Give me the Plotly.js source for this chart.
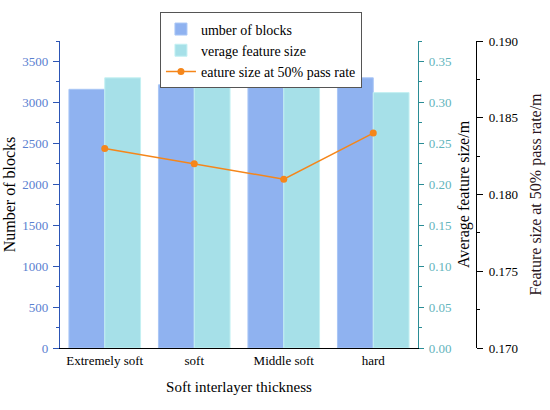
<!DOCTYPE html>
<html>
<head>
<meta charset="utf-8">
<script src="https://cdn.plot.ly/plotly-3.0.1.min.js"></script>
<style>html,body{margin:0;padding:0;background:#fff;}#chart{width:550px;height:410px;}</style>
</head>
<body>
<div id="chart"></div>
<script>
const categories = ["Extremely soft", "soft", "Middle soft", "hard"];
const numberOfBlocks = [3160, 3215, 3240, 3300];
const averageFeatureSize = [0.330, 0.321, 0.325, 0.312];
const featureSize50 = [0.183, 0.182, 0.181, 0.184];
const seriesNames = ["umber of blocks", "verage feature size", "eature size at 50% pass rate"];

const serif = "Liberation Serif";

const traces = [
  {
    type: "bar", x: categories, y: numberOfBlocks, name: seriesNames[0],
    yaxis: "y", width: 0.4, offset: -0.4,
    marker: {color: "#8fb2f0", line: {color: "#a9c6f6", width: 1}}
  },
  {
    type: "bar", x: categories, y: averageFeatureSize, name: seriesNames[1],
    yaxis: "y2", width: 0.4, offset: 0,
    marker: {color: "#a6e0e8", line: {color: "#c4f0f2", width: 1}}
  },
  {
    type: "scatter", mode: "lines+markers", x: categories, y: featureSize50, name: seriesNames[2],
    yaxis: "y3",
    line: {color: "#f5861a", width: 1.5},
    marker: {color: "#f5861a", size: 7}
  }
];

const layout = {
  width: 550, height: 410,
  margin: {l: 60, r: 70, t: 35, b: 62},
  paper_bgcolor: "#fff", plot_bgcolor: "#fff",
  font: {family: serif, color: "#000", size: 13},
  showlegend: true,
  legend: {
    x: 0.238, y: 1.093, xanchor: "left", yanchor: "top",
    bordercolor: "#555", borderwidth: 1, bgcolor: "#fff",
    font: {family: serif, size: 14, color: "#000"},
    tracegroupgap: 0, itemwidth: 30
  },
  xaxis: {
    type: "category", domain: [0, 0.8524], range: [-0.5, 3.5],
    showline: true, linecolor: "#000", linewidth: 1.2,
    ticks: "", showgrid: false, zeroline: false,
    tickfont: {family: serif, size: 13, color: "#000"},
    title: {text: "Soft interlayer thickness", font: {family: serif, size: 15, color: "#000"}, standoff: 14}
  },
  xaxis2: {
    overlaying: "x", anchor: "y", side: "bottom", domain: [0, 0.8524],
    type: "linear", range: [-0.5, 3.5], tick0: -0.5, dtick: 0.5,
    ticks: "outside", ticklen: 5, tickcolor: "#000", tickwidth: 1,
    showticklabels: false, showgrid: false, zeroline: false, showline: false
  },
  yaxis: {
    range: [0, 3750], dtick: 500, tick0: 0,
    showline: true, linecolor: "#2c55b5", linewidth: 1.2,
    ticks: "outside", ticklen: 6, tickcolor: "#2c55b5",
    minor: {dtick: 250, ticks: "outside", ticklen: 3, tickcolor: "#2c55b5"},
    showgrid: false, zeroline: false, ticklabelstandoff: 2,
    tickfont: {family: serif, size: 13, color: "#5a80d0"},
    title: {text: "Number of blocks", font: {family: serif, size: 16, color: "#000"}, standoff: 2}
  },
  yaxis2: {
    overlaying: "y", side: "right", anchor: "x",
    range: [0, 0.375], dtick: 0.05, tick0: 0, tickformat: ".2f",
    showline: true, linecolor: "#2a8c95", linewidth: 1.2,
    ticks: "outside", ticklen: 5, tickcolor: "#2a8c95",
    minor: {dtick: 0.025, ticks: "outside", ticklen: 3, tickcolor: "#2a8c95"},
    showgrid: false, zeroline: false, ticklabelstandoff: 2,
    tickfont: {family: serif, size: 13, color: "#62b4bc"},
    title: {text: "Average feature size/m", font: {family: serif, size: 16, color: "#000"}, standoff: 7}
  },
  yaxis3: {
    overlaying: "y", side: "right", anchor: "free", position: 0.9905,
    range: [0.17, 0.19], dtick: 0.005, tick0: 0.17, tickformat: ".3f",
    showline: true, linecolor: "#000", linewidth: 1.2,
    ticks: "outside", ticklen: 6, tickcolor: "#000",
    minor: {dtick: 0.0025, ticks: "outside", ticklen: 3, tickcolor: "#000"},
    showgrid: false, zeroline: false, ticklabelstandoff: 3,
    tickfont: {family: serif, size: 13, color: "#000"},
    title: {text: "Feature size at 50% pass rate/m", font: {family: serif, size: 16, color: "#2a1420"}, standoff: 12}
  }
};

Plotly.newPlot("chart", traces, layout, {displayModeBar: false, staticPlot: true});
</script>
</body>
</html>
